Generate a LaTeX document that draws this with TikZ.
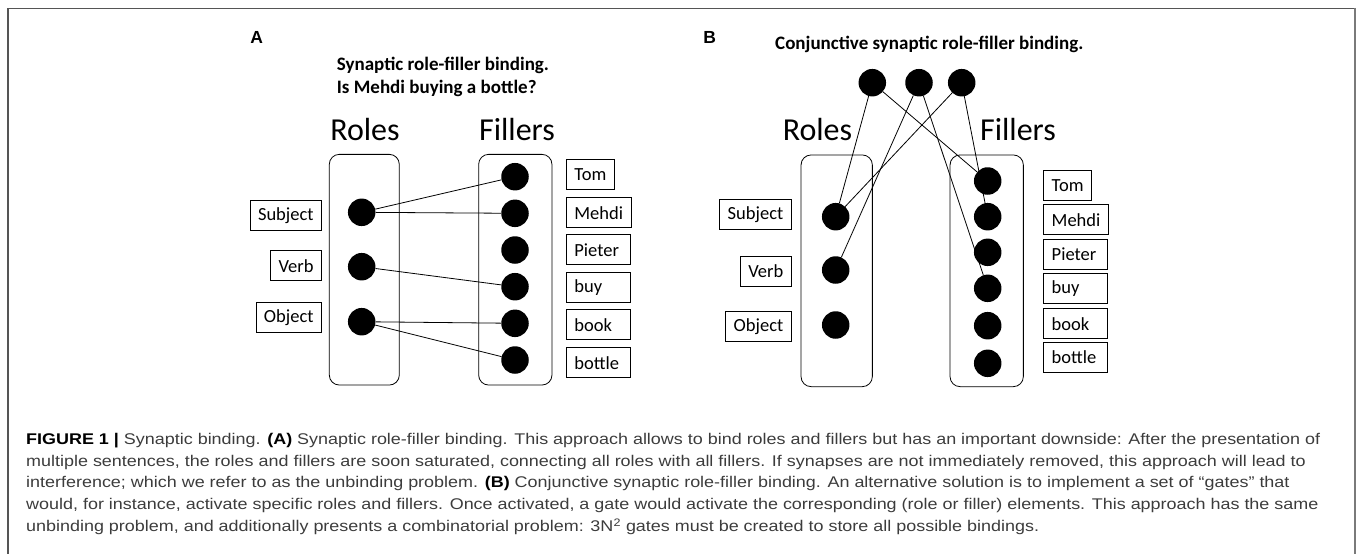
\documentclass[tikz,border=0pt]{standalone}
\usepackage{fontspec}
\setmainfont{Carlito}
\newfontfamily\capfont[FakeStretch=1.158]{Liberation Sans}
\newfontfamily\panelfont{Liberation Sans}
\usetikzlibrary{positioning}
\definecolor{framegray}{HTML}{555555}
\definecolor{shadegray}{HTML}{7A7A7A}
\definecolor{captext}{HTML}{3C3C3C}

\begin{document}
\begin{tikzpicture}[x=1pt,y=-1pt,
  dot/.style={circle, fill=black, inner sep=0pt, minimum size=27.5pt},
  word/.style={draw, line width=0.8pt, inner xsep=8pt, inner ysep=0pt,
               minimum height=30pt, font=\fontsize{18.5}{20}\selectfont},
  wide/.style={word, text width=48pt, align=left},
  column/.style={draw, line width=0.8pt, rounded corners=10pt, inner sep=0pt},
  head/.style={font=\fontsize{32}{36}\selectfont, anchor=base},
  title/.style={font=\bfseries\fontsize{19}{23.3}\selectfont, align=left, inner sep=0pt},
  panel/.style={font=\panelfont\bfseries\fontsize{17.5}{20}\selectfont, inner sep=0pt},
  link/.style={line width=0.8pt}]
  \useasboundingbox (0,0) rectangle (1358,554);

  % outer frame
  \draw[framegray, line width=1.5pt] (8,554) -- (8,8.5) -- (1354,8.5);
  \draw[shadegray, line width=2.5pt] (1355,7.8) -- (1355,554);

  % ---------------- A: synaptic binding
  \node[panel] (labelA) at (256.7,37.5) {A};
  \node[title, anchor=west] (titleA) at (336.7,76.7) {Synaptic role-filler binding.\\Is Mehdi buying a bottle?};
  \node[head] (rolesHeadA) at (365,140) {Roles};
  \node[head] (fillersHeadA) at (517,140) {Fillers};
  \node[column, minimum width=70pt, minimum height=230.7pt] (rolesA) at (364.3,269.7) {};
  \node[column, minimum width=73.3pt, minimum height=230.7pt] (fillersA) at (515.3,269.7) {};

  % role units
  \node[dot] (rA1) at (361.7,212.3) {};
  \node[dot] (rA2) at (361.7,266.7) {};
  \node[dot] (rA3) at (361.7,321.7) {};
  \node[word, anchor=east] (subjA) at (322,215.8) {Subject};
  \node[word, anchor=east] (verbA) at (322,265.8) {Verb};
  \node[word, anchor=east] (objA) at (322,317.7) {Object};

  % filler units
  \node[dot] (fA1) at (515,176.7) {};
  \node[dot] (fA2) at (515,213.3) {};
  \node[dot] (fA3) at (515,250) {};
  \node[dot] (fA4) at (515,286.7) {};
  \node[dot] (fA5) at (515,323.3) {};
  \node[dot] (fA6) at (515,360) {};
  \node[word, anchor=west] (tomA) at (566,174.7) {Tom};
  \node[word, anchor=west] (mehdiA) at (566,212.7) {Mehdi};
  \node[wide, anchor=west] (pieterA) at (566,249.8) {Pieter};
  \node[wide, anchor=west] (buyA) at (566,287.8) {buy};
  \node[wide, anchor=west] (bookA) at (566,324.7) {book};
  \node[wide, anchor=west] (bottleA) at (566,362.8) {bottle};

  % synapses
  \draw[link] (rA1) -- (fA1);
  \draw[link] (rA1) -- (fA2);
  \draw[link] (rA2) -- (fA4);
  \draw[link] (rA3) -- (fA5);
  \draw[link] (rA3) -- (fA6);

  % ---------------- B: conjunctive binding
  \node[panel] (labelB) at (709.7,37) {B};
  \node[title, anchor=west] (titleB) at (775,44.5) {Conjunctive synaptic role-filler binding.};
  \node[head] (rolesHeadB) at (817.5,140) {Roles};
  \node[head] (fillersHeadB) at (1018,140) {Fillers};
  \node[column, minimum width=71.3pt, minimum height=231.7pt] (rolesB) at (836.7,270.8) {};
  \node[column, minimum width=73.3pt, minimum height=231.7pt] (fillersB) at (986.7,270.8) {};

  % gates
  \node[dot] (gB1) at (872.3,82.7) {};
  \node[dot] (gB2) at (919,82.7) {};
  \node[dot] (gB3) at (961.7,82.7) {};

  % role units
  \node[dot] (rB1) at (835.7,216.7) {};
  \node[dot] (rB2) at (835.7,270) {};
  \node[dot] (rB3) at (835.7,325) {};
  \node[word, anchor=east] (subjB) at (791.7,214.7) {Subject};
  \node[word, anchor=east] (verbB) at (791.7,271.3) {Verb};
  \node[word, anchor=east] (objB) at (791.7,326.8) {Object};

  % filler units
  \node[dot] (fB1) at (987.7,181) {};
  \node[dot] (fB2) at (987.7,216.7) {};
  \node[dot] (fB3) at (987.7,252.3) {};
  \node[dot] (fB4) at (987.7,288.3) {};
  \node[dot] (fB5) at (987.7,325.7) {};
  \node[dot] (fB6) at (987.7,363.3) {};
  \node[word, anchor=west] (tomB) at (1043.3,185.8) {Tom};
  \node[word, anchor=west] (mehdiB) at (1043.3,219.7) {Mehdi};
  \node[wide, anchor=west] (pieterB) at (1043.3,254.7) {Pieter};
  \node[wide, anchor=west] (buyB) at (1043.3,288.7) {buy};
  \node[wide, anchor=west] (bookB) at (1043.3,323.8) {book};
  \node[wide, anchor=west] (bottleB) at (1043.3,357.3) {bottle};

  % gate wiring
  \draw[link] (gB1) -- (rB1);
  \draw[link] (gB1) -- (fB1);
  \draw[link] (gB2) -- (rB2);
  \draw[link] (gB2) -- (fB4);
  \draw[link] (gB3) -- (rB1);
  \draw[link] (gB3.center) -- (fB2);

  % caption
  \node[anchor=north west, align=left, inner sep=0pt, text=captext,
        font=\capfont\fontsize{15.5}{21.7}\selectfont] (caption) at (26,433)
  {\textcolor{black}{\textbf{FIGURE 1 |}} Synaptic binding. \textcolor{black}{\textbf{(A)}} Synaptic role-filler binding. This approach allows to bind roles and fillers but has an important downside: After the presentation of\\
   multiple sentences, the roles and fillers are soon saturated, connecting all roles with all fillers. If synapses are not immediately removed, this approach will lead to\\
   interference; which we refer to as the unbinding problem. \textcolor{black}{\textbf{(B)}} Conjunctive synaptic role-filler binding. An alternative solution is to implement a set of “gates” that\\
   would, for instance, activate specific roles and fillers. Once activated, a gate would activate the corresponding (role or filler) elements. This approach has the same\\
   unbinding problem, and additionally presents a combinatorial problem: 3N\textsuperscript{2} gates must be created to store all possible bindings.};
\end{tikzpicture}
\end{document}
